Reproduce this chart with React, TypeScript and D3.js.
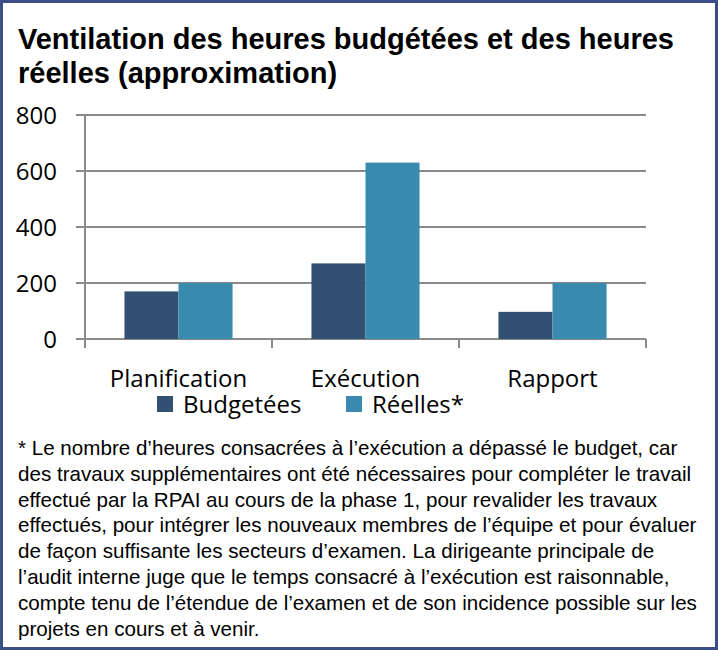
import React from "react";
import * as d3 from "d3";

const categories = ["Planification", "Exécution", "Rapport"];
const seriesNames = ["Budgetées", "Réelles*"];
const budgetees = [170, 270, 97];
const reelles = [200, 630, 200];
const yTicks = [0, 200, 400, 600, 800];
const titleLines = [
  "Ventilation des heures budgétées et des heures",
  "réelles (approximation)",
];
const footnoteLines = [
  "* Le nombre d’heures consacrées à l’exécution a dépassé le budget, car",
  "des travaux supplémentaires ont été nécessaires pour compléter le travail",
  "effectué par la RPAI au cours de la phase 1, pour revalider les travaux",
  "effectués, pour intégrer les nouveaux membres de l’équipe et pour évaluer",
  "de façon suffisante les secteurs d’examen. La dirigeante principale de",
  "l’audit interne juge que le temps consacré à l’exécution est raisonnable,",
  "compte tenu de l’étendue de l’examen et de son incidence possible sur les",
  "projets en cours et à venir.",
];

const colors = ["#335072", "#3a8ab0"];
const axisFont = "'Open Sans', sans-serif";
const textFont = "'Liberation Sans', Arial, sans-serif";

export default function App() {
  const W = 718;
  const H = 650;
  const plotLeft = 85;
  const plotRight = 646;
  const y = d3.scaleLinear().domain([0, 800]).range([339, 115]);
  const x = d3.scaleBand<string>().domain(categories).range([plotLeft, plotRight]).padding(0);
  const groupW = x.bandwidth() * 0.578;
  const xs = d3.scaleBand<string>().domain(seriesNames).range([0, groupW]).padding(0);
  const series = [budgetees, reelles];
  const gridColor = "#8a8a8a";

  return (
    <svg width={W} height={H} style={{ position: "absolute", left: 0, top: 0, display: "block", background: "#fff" }}>
      <rect x={1.5} y={1.5} width={715} height={647} fill="#fff" stroke="#3a4f86" strokeWidth={3} />
      {titleLines.map((t, i) => (
        <text key={i} x={18} y={49 + i * 34} fontFamily={textFont} fontWeight="bold" fontSize={29} fill="#000">
          {t}
        </text>
      ))}
      {yTicks.map((v) => (
        <line key={"g" + v} x1={76} x2={plotRight} y1={y(v)} y2={y(v)} stroke={gridColor} strokeWidth={2} />
      ))}
      <line x1={plotLeft} x2={plotLeft} y1={y(800)} y2={y(0) + 9} stroke={gridColor} strokeWidth={2} />
      {categories.map((c) => (
        <line key={"t" + c} x1={(x(c) as number) + x.bandwidth()} x2={(x(c) as number) + x.bandwidth()} y1={y(0)} y2={y(0) + 9} stroke={gridColor} strokeWidth={2} />
      ))}
      {categories.map((c, ci) => {
        const gx = (x(c) as number) + (x.bandwidth() - groupW) / 2;
        return series.map((s, si) => (
          <rect
            key={c + si}
            x={gx + (xs(seriesNames[si]) as number)}
            y={y(s[ci])}
            width={xs.bandwidth()}
            height={y(0) - y(s[ci])}
            fill={colors[si]}
          />
        ));
      })}
      {yTicks.map((v) => (
        <text key={"l" + v} x={57} y={y(v)} dy="0.36em" textAnchor="end" fontFamily={axisFont} fontSize={24} fill="#000">
          {v}
        </text>
      ))}
      {categories.map((c) => (
        <text key={"c" + c} x={(x(c) as number) + x.bandwidth() / 2} y={387} textAnchor="middle" fontFamily={axisFont} fontSize={24} fill="#000">
          {c}
        </text>
      ))}
      {seriesNames.map((n, i) => {
        const lx = [157, 346][i];
        return (
          <g key={"lg" + n}>
            <rect x={lx} y={396} width={16} height={16} fill={colors[i]} />
            <text x={lx + 26} y={413} fontFamily={axisFont} fontSize={24} fill="#000">
              {n}
            </text>
          </g>
        );
      })}
      {footnoteLines.map((t, i) => (
        <text key={"f" + i} x={18} y={455 + i * 25.8} fontFamily={textFont} fontSize={20.6} fill="#000">
          {t}
        </text>
      ))}
    </svg>
  );
}
